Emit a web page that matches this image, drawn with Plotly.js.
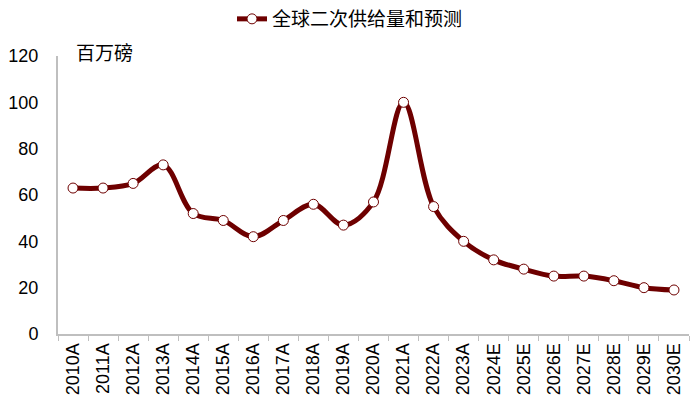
<!DOCTYPE html>
<html><head><meta charset="utf-8">
<script src="https://cdn.plot.ly/plotly-3.0.1.min.js"></script>
<style>body{margin:0;}#c{width:700px;height:416px;}</style>
</head><body><div id="c"></div>
<script>
const categories = ["2010A","2011A","2012A","2013A","2014A","2015A","2016A","2017A","2018A","2019A","2020A","2021A","2022A","2023A","2024E","2025E","2026E","2027E","2028E","2029E","2030E"];
const supply = [63,63,65,73,52,49,42,49,56,47,57,100,55,40,32,28,25,25,23,20,19];
const seriesName = "全球二次供给量和预测";
const unitLabel = "百万磅";
const yTicks = [0,20,40,60,80,100,120];

const font = "Liberation Sans, Arial, Noto Sans CJK SC, sans-serif";
Plotly.newPlot("c", [{
  x: categories, y: supply, name: seriesName, type: "scatter", mode: "lines+markers",
  line: {color: "#6e0000", width: 5, shape: "spline", smoothing: 1},
  marker: {symbol: "circle", size: 10, color: "#ffffff", line: {color: "#6e0000", width: 1}}
}], {
  width: 700, height: 416,
  margin: {l: 58, r: 11, t: 56, b: 82},
  paper_bgcolor: "#ffffff", plot_bgcolor: "#ffffff",
  font: {family: font, color: "#000000"},
  showlegend: true,
  legend: {orientation: "h", xref: "container", yref: "container", x: 0.5, xanchor: "center", y: 1, yanchor: "top",
           font: {size: 19, family: font}},
  xaxis: {type: "category", showline: true, linecolor: "#bfbfbf", linewidth: 2, ticks: "outside", tickson: "boundaries",
          ticklen: 5, tickcolor: "#bfbfbf", tickangle: -90, tickfont: {size: 18, family: font}, showgrid: false, zeroline: false,
          range: [-0.5, categories.length - 0.5]},
  yaxis: {range: [0, 120], tickvals: yTicks, showline: true, linecolor: "#bfbfbf", linewidth: 2, ticks: "",
          tickfont: {size: 18, family: font}, showgrid: false, zeroline: false, ticklabelstandoff: 14},
  annotations: [{text: unitLabel, xref: "paper", yref: "paper", x: 0.025, y: 1.01, xanchor: "left", yanchor: "middle",
                 showarrow: false, font: {size: 19, family: font}}]
}, {displayModeBar: false, staticPlot: true});
</script></body></html>
